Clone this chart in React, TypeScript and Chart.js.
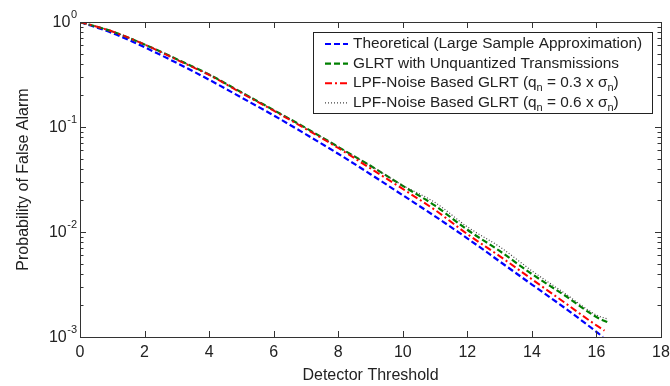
import React, { useEffect, useRef } from 'react';
import { Chart, registerables } from 'chart.js';

Chart.register(...registerables);

// ---- data ----
const thresholds = [0, 1, 2, 3, 4, 5, 6, 7, 8, 9, 10, 11, 12, 13, 14, 15, 16];
const theoreticalEndX = 16.2;
const glrtEndX = 16.35;
const lpf03EndX = 16.25;
const lpf06EndX = 16.35;

const theoreticalPfa = [1, 0.785, 0.575, 0.407, 0.282, 0.191, 0.129, 0.0851, 0.0556, 0.0355, 0.0224, 0.0141, 0.0087, 0.00525, 0.00316, 0.00191, 0.00112, 0.001];
const glrtPfa = [1, 0.813, 0.61, 0.442, 0.316, 0.214, 0.145, 0.0977, 0.0646, 0.0427, 0.0275, 0.0178, 0.0105, 0.0066, 0.00398, 0.00251, 0.00155, 0.00138];
const lpf03Pfa = [1, 0.813, 0.61, 0.437, 0.313, 0.211, 0.143, 0.0955, 0.0631, 0.0403, 0.0257, 0.0162, 0.00955, 0.00589, 0.00355, 0.00214, 0.00129, 0.00115];
const lpf06Pfa = [1, 0.813, 0.61, 0.442, 0.316, 0.214, 0.145, 0.0977, 0.0646, 0.0427, 0.0278, 0.0191, 0.0112, 0.00724, 0.00427, 0.00263, 0.00162, 0.00148];

const yDecadeExponents = [0, -1, -2, -3];
const xLabel = 'Detector Threshold';
const yLabel = 'Probability of False Alarm';

type Seg = { t: string; sub?: boolean };
const legendItems: { segs: Seg[]; color: string; dash: number[]; width: number }[] = [
  { segs: [{ t: 'Theoretical (Large Sample Approximation)' }], color: '#0000ff', dash: [6, 3], width: 2.2 },
  { segs: [{ t: 'GLRT with Unquantized Transmissions' }], color: '#008000', dash: [6, 3], width: 2.2 },
  {
    segs: [{ t: 'LPF-Noise Based GLRT (q' }, { t: 'n', sub: true }, { t: ' = 0.3 x σ' }, { t: 'n', sub: true }, { t: ')' }],
    color: '#ff0000', dash: [7, 3, 2, 3], width: 2,
  },
  {
    segs: [{ t: 'LPF-Noise Based GLRT (q' }, { t: 'n', sub: true }, { t: ' = 0.6 x σ' }, { t: 'n', sub: true }, { t: ')' }],
    color: '#444444', dash: [1, 2], width: 1.2,
  },
];

const FONT = '"Liberation Sans", Arial, sans-serif';
const TEXT = '#222222';

const pts = (ys: number[], endX: number) =>
  ys.map((y, i) => ({ x: i < thresholds.length ? thresholds[i] : endX, y }));

const framePlugin = {
  id: 'matlabFrame',
  afterDraw(chart: any) {
    const { ctx, chartArea: a, scales } = chart;
    const xs = scales.x;
    const ys = scales.y;
    ctx.save();
    // box
    ctx.strokeStyle = '#333';
    ctx.lineWidth = 1;
    ctx.setLineDash([]);
    ctx.strokeRect(Math.round(a.left) + 0.5, Math.round(a.top) + 0.5, Math.round(a.right - a.left), Math.round(a.bottom - a.top));
    // x ticks (inward, top & bottom)
    ctx.beginPath();
    for (const t of xs.ticks) {
      const px = Math.round(xs.getPixelForValue(t.value)) + 0.5;
      ctx.moveTo(px, a.bottom); ctx.lineTo(px, a.bottom - 6);
      ctx.moveTo(px, a.top); ctx.lineTo(px, a.top + 6);
    }
    // y ticks major/minor (inward, left & right)
    for (const e of yDecadeExponents) {
      for (let k = 1; k <= 9; k++) {
        const v = k * Math.pow(10, e);
        if (v > 1.0000001 || v < 0.00099999) continue;
        const py = Math.round(ys.getPixelForValue(v)) + 0.5;
        const len = k === 1 ? 6 : 3.5;
        ctx.moveTo(a.left, py); ctx.lineTo(a.left + len, py);
        ctx.moveTo(a.right, py); ctx.lineTo(a.right - len, py);
      }
    }
    ctx.stroke();
    // y tick labels 10^e
    ctx.fillStyle = TEXT;
    ctx.textBaseline = 'middle';
    for (const e of yDecadeExponents) {
      const py = ys.getPixelForValue(Math.pow(10, e));
      ctx.font = `11px ${FONT}`;
      const expStr = String(e);
      const ew = ctx.measureText(expStr).width;
      const expX = a.left - 3 - ew;
      ctx.textAlign = 'left';
      ctx.fillText(expStr, expX, py - 7);
      ctx.font = `16px ${FONT}`;
      ctx.textAlign = 'right';
      ctx.fillText('10', expX - 0.5, py + 1);
    }
    // legend
    const lx = 313, ly = 32, lw = 339, lh = 81;
    ctx.fillStyle = '#fff';
    ctx.fillRect(lx, ly, lw, lh);
    ctx.strokeStyle = '#222';
    ctx.lineWidth = 1;
    ctx.strokeRect(lx + 0.5, ly + 0.5, lw, lh);
    legendItems.forEach((it, i) => {
      const cy = 44 + i * 19.6;
      ctx.strokeStyle = it.color;
      ctx.lineWidth = it.width;
      ctx.setLineDash(it.dash);
      ctx.beginPath();
      ctx.moveTo(325, cy);
      ctx.lineTo(348, cy);
      ctx.stroke();
      ctx.setLineDash([]);
      let tx = 353;
      ctx.fillStyle = TEXT;
      ctx.textAlign = 'left';
      ctx.textBaseline = 'middle';
      for (const s of it.segs) {
        if (s.sub) {
          ctx.font = `11px ${FONT}`;
          ctx.fillText(s.t, tx, cy + 5);
        } else {
          ctx.font = `15.4px ${FONT}`;
          ctx.fillText(s.t, tx, cy);
        }
        tx += ctx.measureText(s.t).width;
      }
    });
    ctx.restore();
  },
};

export default function App() {
  const ref = useRef<HTMLCanvasElement | null>(null);
  useEffect(() => {
    if (!ref.current) return;
    const chart = new Chart(ref.current, {
      type: 'line',
      data: {
        datasets: [
          { label: 'Theoretical', data: pts(theoreticalPfa, theoreticalEndX), borderColor: '#0000ff', borderDash: [6, 3], borderWidth: 2.2, order: 3 },
          { label: 'GLRT', data: pts(glrtPfa, glrtEndX), borderColor: '#008000', borderDash: [6, 3], borderWidth: 2.2, order: 2 },
          { label: 'LPF 0.3', data: pts(lpf03Pfa, lpf03EndX), borderColor: '#ff0000', borderDash: [7, 3, 2, 3], borderWidth: 2, order: 1 },
          { label: 'LPF 0.6', data: pts(lpf06Pfa, lpf06EndX), borderColor: '#444444', borderDash: [1, 2], borderWidth: 1.2, order: 0 },
        ].map((d) => ({ ...d, pointRadius: 0, fill: false, cubicInterpolationMode: 'monotone' as const })),
      },
      options: {
        animation: false,
        responsive: false,
        layout: { padding: { left: 0, right: 9, top: 22, bottom: 1 } },
        plugins: { legend: { display: false }, tooltip: { enabled: false } },
        scales: {
          x: {
            type: 'linear', min: 0, max: 18,
            ticks: { stepSize: 2, color: TEXT, font: { family: FONT, size: 16 }, padding: 6, maxRotation: 0, autoSkip: false },
            grid: { display: false, drawTicks: false },
            border: { display: false },
            title: { display: true, text: xLabel, color: TEXT, font: { family: FONT, size: 16 }, padding: { top: 0, bottom: 0 } },
            afterFit: (s: any) => { s.height = 48; s.paddingLeft = 0; s.paddingRight = 0; },
          },
          y: {
            type: 'logarithmic', min: 0.001, max: 1,
            ticks: { callback: () => '', color: TEXT },
            grid: { display: false, drawTicks: false },
            border: { display: false },
            title: { display: true, text: yLabel, color: TEXT, font: { family: FONT, size: 16 }, padding: { top: 14, bottom: 0 } },
            afterFit: (s: any) => { s.width = 80; s.paddingTop = 0; s.paddingBottom = 0; },
          },
        },
      },
      plugins: [framePlugin],
    } as any);
    return () => chart.destroy();
  }, []);
  return (
    <div style={{ position: 'absolute', left: 0, top: 0, width: 670, height: 386, background: '#fff' }}>
      <canvas ref={ref} width={670} height={386} style={{ display: 'block' }} />
    </div>
  );
}
